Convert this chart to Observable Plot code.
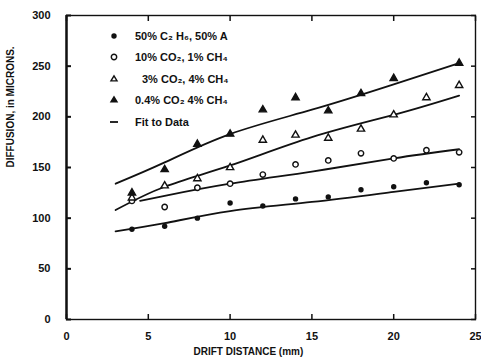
<!DOCTYPE html>
<html>
<head>
<meta charset="utf-8">
<script src="https://cdn.jsdelivr.net/npm/d3@7"></script>
<script src="https://cdn.jsdelivr.net/npm/@observablehq/plot@0.6"></script>
<style>
  html, body { margin: 0; padding: 0; background: #fff; }
  #wrap { position: relative; width: 481px; height: 362px; overflow: hidden; font-family: "Liberation Sans", Arial, sans-serif; }
  #legend { position: absolute; left: 104px; top: 25px; font-size: 11px; font-weight: bold; color: #111; }
  #legend .row { display: flex; align-items: center; height: 21.5px; }
  #legend svg { width: 20px; height: 12px; margin-right: 11px; overflow: visible; }
</style>
</head>
<body>
<div id="wrap"></div>
<script>
// ---- data ----
const xs = [4, 6, 8, 10, 12, 14, 16, 18, 20, 22, 24];
const c2h6 = [89, 92, 100, 115, 112, 119, 121, 128, 131, 135, 133];      // 50% C2H6, 50% A  (filled circle)
const co2_10 = [117, 111, 130, 134, 143, 153, 157, 164, 159, 167, 165];  // 10% CO2, 1% CH4  (open circle)
const co2_3 = [120, 132, 139, 150, 177, 182, 179, 188, 202, 219, 231];   // 3% CO2, 4% CH4   (open triangle)
const xs04 = [4, 6, 8, 10, 12, 14, 16, 18, 20, 24];
const co2_04 = [125, 148, 173, 183, 207, 219, 206, 223, 238, 253];       // 0.4% CO2, 4% CH4 (filled triangle)

// fitted curves
const fitAx = [3, 6, 10, 15, 20, 24],   fitAy = [134, 155, 183, 207, 232, 253];
const fitBx = [3, 6, 10, 15, 20, 24],   fitBy = [108, 131, 152, 180, 202, 221];
const fitCx = [4.5, 6, 10, 15, 20, 24], fitCy = [117, 122, 134, 146, 159, 168];
const fitDx = [3, 6, 10, 15, 20, 24],   fitDy = [87, 95, 107, 116, 126, 134];

const xTicks = [0, 5, 10, 15, 20, 25];
const yTicks = [0, 50, 100, 150, 200, 250, 300];
const seriesNames = ["50% C\u2082 H\u2086, 50% A", "10% CO\u2082, 1% CH\u2084", "3% CO\u2082, 4% CH\u2084", "0.4% CO\u2082 4% CH\u2084"];
const fitName = "Fit to Data";
const xLabel = "DRIFT DISTANCE (mm)";
const yLabel = "DIFFUSION, in MICRONS.";

// ---- build tables ----
const styles = [
  {symbol: "circle", fill: "#111", stroke: "none", r: 2.7},
  {symbol: "circle", fill: "white", stroke: "#111", r: 2.7},
  {symbol: "triangle", fill: "white", stroke: "#111", r: 2.7},
  {symbol: "triangle", fill: "#111", stroke: "#111", r: 2.7}
];
const pts = [];
[[xs, c2h6], [xs, co2_10], [xs, co2_3], [xs04, co2_04]].forEach(([xv, yv], s) => {
  xv.forEach((x, i) => pts.push({x, y: yv[i], s}));
});
const fits = [];
[[fitAx, fitAy], [fitBx, fitBy], [fitCx, fitCy], [fitDx, fitDy]].forEach(([xv, yv], k) => {
  xv.forEach((x, i) => fits.push({x, y: yv[i], k}));
});

const ink = "#111";
const font = "Liberation Sans, Arial, sans-serif";

const chart = Plot.plot({
  width: 481,
  height: 362,
  marginLeft: 66,
  marginRight: 6,
  marginTop: 15,
  marginBottom: 43,
  style: {fontFamily: font, fontSize: "11px", fontWeight: "bold", color: ink, background: "white", overflow: "visible"},
  x: {domain: [0, 25]},
  y: {domain: [0, 300]},
  marks: [
    Plot.frame({stroke: ink, strokeWidth: 1.4}),
    Plot.ruleX([0], {stroke: ink, strokeWidth: 2.4}),
    Plot.axisY({anchor: "left", ticks: yTicks, tickSize: -5, tickPadding: 21, label: null, stroke: ink, strokeWidth: 2}),
    Plot.axisY({anchor: "right", ticks: yTicks, tickSize: -5, tickFormat: () => "", label: null, stroke: ink, strokeWidth: 1.5}),
    Plot.axisX({anchor: "bottom", ticks: xTicks, tickSize: -5, tickPadding: 18, label: null, stroke: ink, strokeWidth: 1.5}),
    Plot.axisX({anchor: "top", ticks: xTicks, tickSize: -5, tickFormat: () => "", label: null, stroke: ink, strokeWidth: 1.5}),
    Plot.line(fits, {x: "x", y: "y", z: "k", curve: "natural", stroke: ink, strokeWidth: 1.8}),
    Plot.dot(pts, {
      x: "x", y: "y",
      symbol: d => styles[d.s].symbol,
      fill: d => styles[d.s].fill,
      stroke: d => styles[d.s].stroke,
      r: d => styles[d.s].r,
      strokeWidth: 1.4
    }),
    Plot.text([xLabel], {frameAnchor: "bottom-left", dx: 127, dy: 35, textAnchor: "start", fontSize: 10, fontWeight: "bold", fill: ink}),
    Plot.text([yLabel], {frameAnchor: "left", rotate: -90, dx: -56, dy: 0, fontSize: 10, fontWeight: "bold", fill: ink})
  ],
  symbol: {type: "identity"},
  color: {type: "identity"},
  r: {type: "identity"}
});
document.getElementById("wrap").appendChild(chart);

// legend overlay
const legend = document.createElement("div");
legend.id = "legend";
function markerSvg(st) {
  if (st.symbol === "circle") {
    return `<svg viewBox="-10 -6 20 12"><circle r="2.7" fill="${st.fill}" stroke="${st.stroke === "none" ? "none" : st.stroke}" stroke-width="1.4"/></svg>`;
  }
  const r = 3.2;
  const p = `0,${-r} ${r * 0.95},${r * 0.6} ${-r * 0.95},${r * 0.6}`;
  return `<svg viewBox="-10 -6 20 12"><polygon points="${p}" fill="${st.fill}" stroke="${st.stroke}" stroke-width="1.4"/></svg>`;
}
seriesNames.forEach((name, i) => {
  const row = document.createElement("div");
  row.className = "row";
  row.innerHTML = markerSvg(styles[i]) + `<span style="${i === 2 ? "padding-left:7px" : ""}">${name}</span>`;
  legend.appendChild(row);
});
const fitRow = document.createElement("div");
fitRow.className = "row";
fitRow.innerHTML = `<svg viewBox="-10 -6 20 12"><line x1="-4" x2="4" y1="0" y2="0" stroke="${ink}" stroke-width="1.8"/></svg><span>${fitName}</span>`;
legend.appendChild(fitRow);
document.getElementById("wrap").appendChild(legend);
</script>
</body>
</html>
